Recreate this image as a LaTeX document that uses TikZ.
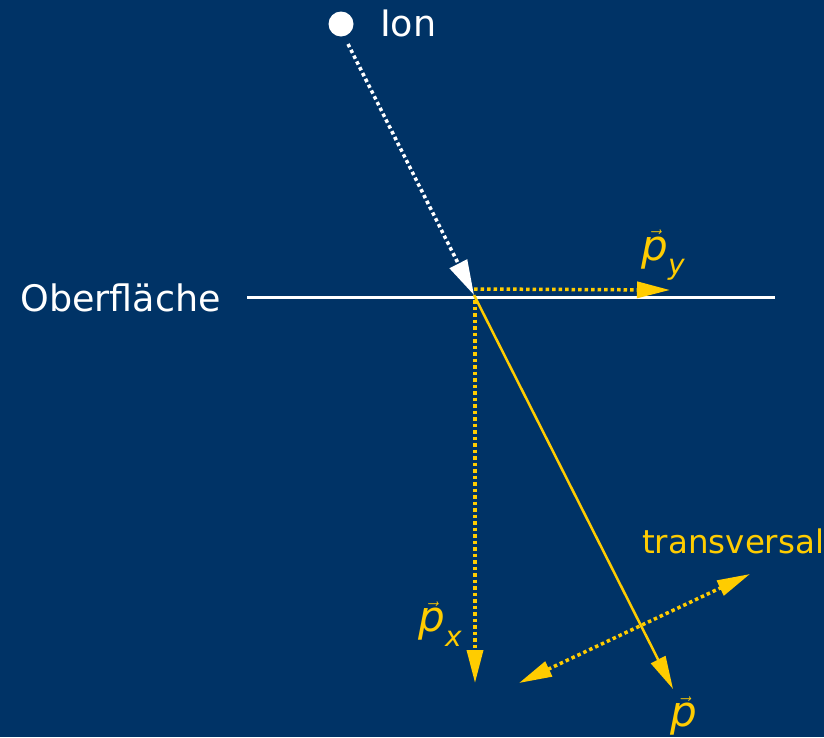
\documentclass[tikz,border=0pt]{standalone}
\usepackage{fontspec}
\setmainfont{DejaVu Sans}
\usetikzlibrary{arrows.meta}
\definecolor{bg}{HTML}{003366}
\definecolor{yel}{HTML}{FFCC00}
\newcommand\vp[1]{$\vec{\hbox{\itshape p}}$\raisebox{-0.35em}{\fontsize{28}{30}\selectfont\itshape #1}}
\tikzset{
  tip/.style={-{Triangle[length=33pt,width=16pt]}},
  dots/.style={line width=3.5pt,dash pattern=on 3.5pt off 3pt},
  lbl/.style={inner sep=0pt,font=\fontsize{36.5}{40}\selectfont},
  ylbl/.style={inner sep=0pt,text=yel,font=\fontsize{32.5}{36}\selectfont},
  plbl/.style={inner sep=0pt,text=yel,font=\fontsize{42}{46}\selectfont},
}
\begin{document}
\begin{tikzpicture}[x=1pt,y=-1pt]
\fill[bg] (0,0) rectangle (824,737);
\useasboundingbox (0,0) rectangle (824,737);
% ion
\fill[white] (341,24) circle (12.5);
\node[lbl,text=white,anchor=west] (ion) at (380,23) {Ion};
\coordinate (ionstart) at (348,44);
\coordinate (hit) at (474,295);
\draw[white,dots,-{Triangle[length=35pt,width=19pt]}] (ionstart) -- (hit);
% surface
\node[lbl,text=white,anchor=east] (surf) at (221,298) {Oberfläche};
\coordinate (sl) at (247,297);
\coordinate (sr) at (775,297);
\draw[white,line width=3pt] (sl) -- (sr);
% p_y
\coordinate (pys) at (474,289);
\coordinate (pye) at (670,290);
\draw[yel,dots,tip] (pys) -- (pye);
\node[plbl] (py) at (663,255) {\vp{y}};
% p_x
\coordinate (pxs) at (475,300);
\coordinate (pxe) at (475,683);
\draw[yel,dots,tip] (pxs) -- (pxe);
\node[plbl] (px) at (440,624) {\vp{x}};
% p
\coordinate (pe) at (673,689);
\draw[yel,line width=2.5pt,tip] (hit) -- (pe);
\node[plbl] (p) at (684,716) {$\vec{\hbox{\itshape p}}$};
% transversal
\coordinate (ta) at (519,683);
\coordinate (tb) at (750,574);
\draw[yel,dots,{Triangle[length=33pt,width=16pt]}-{Triangle[length=33pt,width=16pt]}] (ta) -- (tb);
\node[ylbl,anchor=west] (tr) at (642,541) {transversal};
\end{tikzpicture}
\end{document}
